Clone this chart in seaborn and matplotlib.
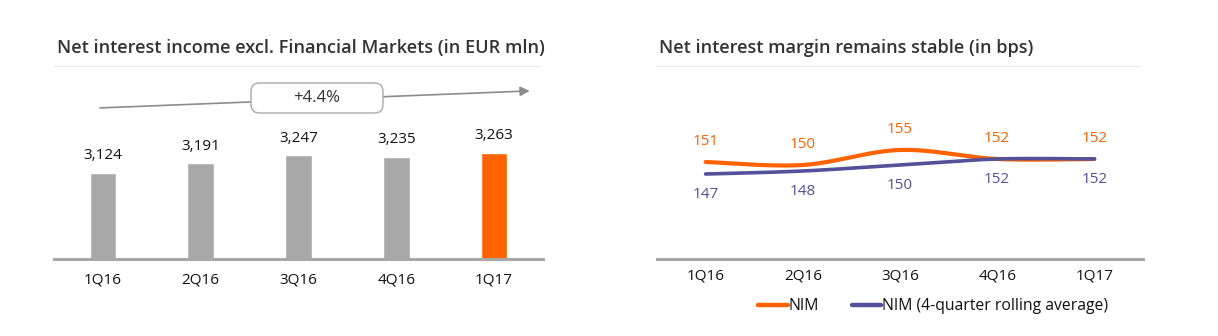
import numpy as np
import pandas as pd
import matplotlib
matplotlib.use("Agg")
import matplotlib.pyplot as plt
from matplotlib.lines import Line2D
from matplotlib.patches import FancyBboxPatch
import seaborn as sns

# ---- data ----
quarters = ["1Q16", "2Q16", "3Q16", "4Q16", "1Q17"]
nii = [3124, 3191, 3247, 3235, 3263]
nii_growth = "+4.4%"
nim = [151, 150, 155, 152, 152]
nim_rolling = [147, 148, 150, 152, 152]

ORANGE = "#FF6200"
INDIGO = "#525199"
GREY = "#A8A8A8"
TEXT = "#333333"
FS = 11

sns.set_theme(style="white")
plt.rcParams["font.family"] = ["Open Sans", "DejaVu Sans"]

W, H = 1218, 336
fig = plt.figure(figsize=(W / 100, H / 100), dpi=100)


def fx(px):
    return px / W


def fy(py):
    return 1 - py / H


ax1 = fig.add_axes([fx(54), fy(259), fx(489), 179 / H])
ax2 = fig.add_axes([fx(657), fy(259), fx(486), 179 / H])

# ---- panel titles and rules ----
for x0, x1, title in [(54, 540, "Net interest income excl. Financial Markets (in EUR mln)"),
                      (656, 1140, "Net interest margin remains stable (in bps)")]:
    fig.text(fx(x0 + 3), fy(48), title, fontsize=13.1, fontweight="semibold",
             color=TEXT, ha="left", va="center")
    fig.add_artist(Line2D([fx(x0), fx(x1)], [fy(66), fy(66)], color="#EBEBEB", lw=1))

# ---- left: bars ----
df1 = pd.DataFrame({"quarter": quarters, "value": nii})
colors = [GREY] * (len(quarters) - 1) + [ORANGE]
sns.barplot(data=df1, x="quarter", y="value", hue="quarter", palette=colors,
            width=0.27, legend=False, ax=ax1, saturation=1)
ax1.set_ylim(2527, 3770)
ax1.set_xlim(-0.5, len(quarters) - 0.5)
for cont in ax1.containers:
    ax1.bar_label(cont, labels=[f"{v:,.0f}" for v in cont.datavalues],
                  padding=7, fontsize=FS, color="#111111")

# growth arrow with rounded label box
ax1.annotate("", xy=(0.973, 0.939), xytext=(0.094, 0.844), xycoords="axes fraction",
             arrowprops=dict(arrowstyle="-|>", color="#8C8C8C", lw=1.2,
                             mutation_scale=14, shrinkA=0, shrinkB=0))
bcx, bcy, bw, bh = 3.17, (H - 98) / 100, 1.32, 0.30
box = FancyBboxPatch((bcx - bw / 2, bcy - bh / 2), bw, bh, transform=fig.dpi_scale_trans,
                     boxstyle="round,pad=0,rounding_size=0.085",
                     fc="white", ec="#AAAAAA", lw=1, zorder=4)
fig.add_artist(box)
fig.text(bcx / (W / 100), bcy / (H / 100), nii_growth, ha="center", va="center",
         fontsize=12, color=TEXT, zorder=5)

# ---- right: smoothed lines ----
def smooth(values, n=40):
    """Cubic Bezier smoothing through the points (tension 1/6)."""
    p = np.asarray(values, dtype=float)
    x = np.arange(len(p), dtype=float)
    pts = np.column_stack([x, p])
    ext = np.vstack([pts[0], pts, pts[-1]])
    out = []
    t = np.linspace(0, 1, n)[:, None]
    for i in range(len(pts) - 1):
        p0, p3 = ext[i + 1], ext[i + 2]
        c1 = p0 + (ext[i + 2] - ext[i]) / 6
        c2 = p3 - (ext[i + 3] - ext[i + 1]) / 6
        seg = ((1 - t) ** 3) * p0 + 3 * ((1 - t) ** 2) * t * c1 + 3 * (1 - t) * t ** 2 * c2 + t ** 3 * p3
        out.append(seg if i == 0 else seg[1:])
    arr = np.vstack(out)
    return arr[:, 0], arr[:, 1]

for vals, col, lw, name in [(nim, ORANGE, 3.0, "NIM"),
                            (nim_rolling, INDIGO, 2.6, "NIM (4-quarter rolling average)")]:
    sx, sy = smooth(vals)
    sns.lineplot(x=sx, y=sy, sort=False, color=col, lw=lw, ax=ax2, label=name,
                 solid_capstyle="round")

for i, v in enumerate(nim):
    ax2.annotate(f"{v}", (i, v), xytext=(0, 13), textcoords="offset pixels",
                 ha="center", va="bottom", fontsize=FS, color=ORANGE)
for i, v in enumerate(nim_rolling):
    ax2.annotate(f"{v}", (i, v), xytext=(0, -13), textcoords="offset pixels",
                 ha="center", va="top", fontsize=FS, color=INDIGO)

ax2.set_xlim(-0.5, len(quarters) - 0.5)
ax2.set_ylim(118.7, 178.3)
ax2.set_xticks(range(len(quarters)))
ax2.set_xticklabels(quarters)
leg = ax2.legend(loc="center", bbox_to_anchor=(0.568, -0.263), ncol=2, frameon=False,
                 fontsize=11.3, handlelength=1.9, handletextpad=0.05, columnspacing=2.1,
                 labelcolor="#111111")
for h in leg.get_lines():
    h.set_linewidth(3.2)

# ---- shared axis styling ----
for ax, pad in [(ax1, 10), (ax2, 6.5)]:
    ax.set_xlabel("")
    ax.set_ylabel("")
    ax.set_yticks([])
    for s in ["top", "left", "right"]:
        ax.spines[s].set_visible(False)
    ax.spines["bottom"].set_color(GREY)
    ax.spines["bottom"].set_linewidth(2.2)
    ax.tick_params(axis="x", length=0, pad=pad, labelsize=FS, labelcolor="#111111")
    ax.set_facecolor("none")

fig.savefig("out.png", dpi=100, facecolor="white")
